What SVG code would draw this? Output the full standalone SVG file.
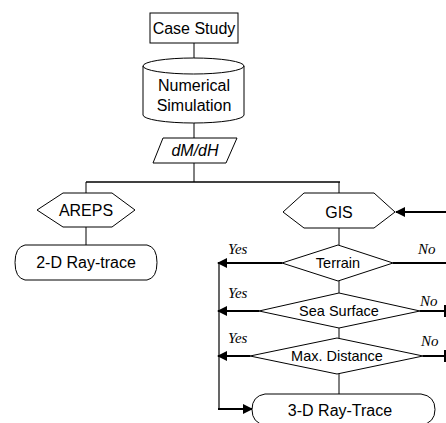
<svg xmlns="http://www.w3.org/2000/svg" width="446" height="423" viewBox="0 0 446 423">
  <defs>
    <style>
      .shape { fill: #fff; stroke: #000; stroke-width: 1; }
      .wire { fill: none; stroke: #000; stroke-width: 1; }
      .flow { fill: none; stroke: #000; stroke-width: 2; }
      .lbl { font-family: "Liberation Sans", Arial, sans-serif; font-size: 16px; text-anchor: middle; fill: #000; }
      .small { font-size: 14.5px; }
      .yn { font-family: "Liberation Serif", "Times New Roman", serif; font-style: italic; font-size: 15px; fill: #000; }
    </style>
    <marker id="arr" viewBox="0 0 10 10" refX="9" refY="5" markerWidth="5" markerHeight="5" orient="auto" markerUnits="strokeWidth">
      <path d="M0,0 L10,5 L0,10 z" fill="#000"/>
    </marker>
  </defs>
  <rect width="446" height="423" fill="#fff"/>

  <g id="connectors">
    <line class="wire" x1="194" y1="43" x2="194" y2="58"/>
    <line class="wire" x1="194" y1="123" x2="194" y2="138"/>
    <line class="wire" x1="194" y1="163" x2="194" y2="182"/>
    <line x1="86" y1="182" x2="340" y2="182" stroke="#000" stroke-width="1.5"/>
    <line class="wire" x1="86" y1="182" x2="86" y2="193"/>
    <line class="wire" x1="339" y1="182" x2="339" y2="193"/>
    <line class="wire" x1="86" y1="227" x2="86" y2="245"/>
    <line class="wire" x1="339" y1="228" x2="339" y2="245"/>
    <line class="wire" x1="339" y1="281" x2="339" y2="293"/>
    <line class="wire" x1="339" y1="328" x2="339" y2="338"/>
    <line class="wire" x1="339" y1="374" x2="339" y2="394"/>
    <!-- return into GIS -->
    <line class="flow" x1="446" y1="212" x2="396" y2="212" marker-end="url(#arr)"/>
    <!-- Yes branches -->
    <line class="flow" x1="282" y1="263" x2="218" y2="263" marker-end="url(#arr)"/>
    <line class="flow" x1="259" y1="311" x2="218" y2="311" marker-end="url(#arr)"/>
    <line class="flow" x1="250" y1="356" x2="218" y2="356" marker-end="url(#arr)"/>
    <line x1="219" y1="263" x2="219" y2="409" stroke="#000" stroke-width="1.2"/>
    <line class="flow" x1="218" y1="409" x2="252" y2="409" marker-end="url(#arr)"/>
    <!-- No branches -->
    <line class="flow" x1="393" y1="263" x2="446" y2="263"/>
    <line class="flow" x1="420" y1="311" x2="445" y2="311"/>
    <line class="flow" x1="423" y1="356" x2="445" y2="356"/>
    <line class="flow" x1="445" y1="305" x2="445" y2="317"/>
    <line class="flow" x1="445" y1="350" x2="445" y2="362"/>
    <text class="yn" x="228" y="254">Yes</text>
    <text class="yn" x="228" y="298">Yes</text>
    <text class="yn" x="228" y="343">Yes</text>
    <text class="yn" x="418" y="254">No</text>
    <text class="yn" x="420" y="306">No</text>
    <text class="yn" x="421" y="346">No</text>
  </g>

  <g id="case-study">
    <rect class="shape" x="150" y="13" width="88" height="30"/>
    <text class="lbl" x="194" y="34">Case Study</text>
  </g>

  <g id="numerical-simulation">
    <path class="shape" d="M143,66 V115 A50.5,8 0 0 0 244,115 V66 A50.5,8 0 0 0 143,66 Z"/>
    <path class="wire" d="M143,66 A50.5,8 0 0 0 244,66"/>
    <text class="lbl" x="194" y="91">Numerical</text>
    <text class="lbl" x="194" y="111">Simulation</text>
  </g>

  <g id="dmdh">
    <polygon class="shape" points="163,138 237,138 226,163 153,163"/>
    <text class="lbl" x="195" y="156" font-style="italic">dM/dH</text>
  </g>

  <g id="areps">
    <polygon class="shape" points="37,210 63,193 112,193 135,210 112,227 63,227"/>
    <text class="lbl" x="86" y="216">AREPS</text>
  </g>

  <g id="ray-2d">
    <path class="shape" d="M25,245 H147 Q157,247 157,262.5 Q157,278 147,280 H25 Q15,278 15,262.5 Q15,247 25,245 Z"/>
    <text class="lbl" x="86" y="268">2-D Ray-trace</text>
  </g>

  <g id="gis">
    <polygon class="shape" points="283,212 304,193 374,193 395,212 374,228 304,228"/>
    <text class="lbl" x="339" y="218">GIS</text>
  </g>

  <g id="terrain">
    <polygon class="shape" points="282,263 338,245 393,263 338,281"/>
    <text class="lbl small" x="338" y="268">Terrain</text>
  </g>

  <g id="sea-surface">
    <polygon class="shape" points="259,311 339,293 420,311 339,328"/>
    <text class="lbl small" x="339" y="316">Sea Surface</text>
  </g>

  <g id="max-distance">
    <polygon class="shape" points="250,356 337,338 423,356 337,374"/>
    <text class="lbl small" x="337" y="361">Max. Distance</text>
  </g>

  <g id="ray-3d">
    <path class="shape" d="M265,394 H421 Q435,396 435,409.5 Q435,423 421,425 H265 Q252,423 252,409.5 Q252,396 265,394 Z"/>
    <text class="lbl" x="340" y="416" font-size="16.5">3-D Ray-Trace</text>
  </g>
</svg>
